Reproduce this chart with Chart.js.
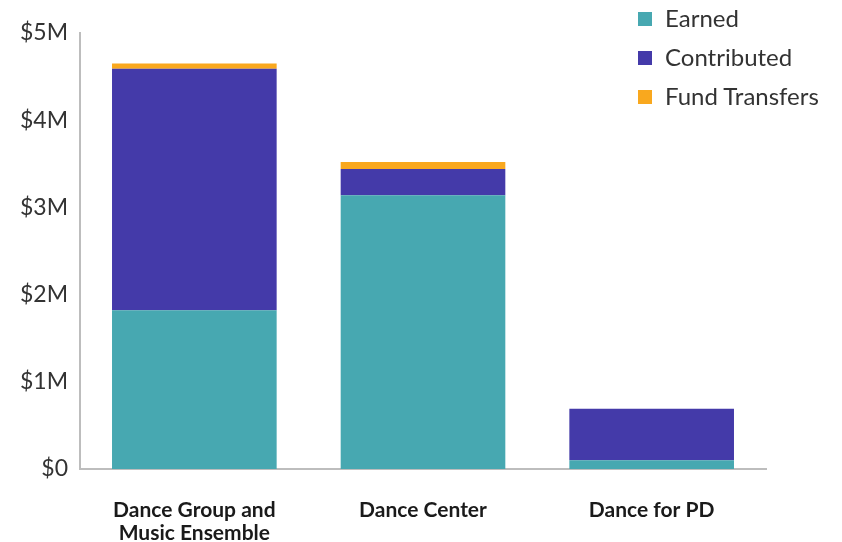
<!DOCTYPE html>
<html>
<head>
<meta charset="utf-8">
<script src="https://cdn.jsdelivr.net/npm/chart.js@4"></script>
<style>
  html, body { margin: 0; padding: 0; background: #fff; }
  #wrap { position: relative; width: 842px; height: 542px; }
  #legend { position: absolute; left: 638px; top: 4px; font-family: Lato, sans-serif; font-size: 24px; color: #333; }
  #legend div { height: 39px; line-height: 28px; white-space: nowrap; }
  #legend span { display: inline-block; width: 14px; height: 14px; margin-right: 13px; vertical-align: 1px; }
</style>
</head>
<body>
<div id="wrap">
  <canvas id="revenue" width="842" height="542"></canvas>
  <div id="legend"></div>
</div>
<script>
const categories = [['Dance Group and', 'Music Ensemble'], 'Dance Center', 'Dance for PD']
const earned = [1820000, 3140000, 100000]
const contributed = [2770000, 300000, 590000]
const fundTransfers = [60000, 80000, 0]
const yTicks = [0, 1000000, 2000000, 3000000, 4000000, 5000000]

const colors = { earned: '#47a8b1', contributed: '#443aa9', fund: '#f9a81e' }

const revenue = document.getElementById("revenue")

// stacked bars
new Chart(revenue, {
  type: 'bar',
  data: {
    labels: categories,
    datasets: [
      { label: 'Earned', data: earned, backgroundColor: colors.earned },
      { label: 'Contributed', data: contributed, backgroundColor: colors.contributed },
      { label: 'Fund Transfers', data: fundTransfers, backgroundColor: colors.fund }
    ]
  },
  options: {
    responsive: false,
    animation: false,
    layout: { padding: { top: 33, right: 76, bottom: 0, left: 0 } },
    plugins: {
      legend: { display: false },
      tooltip: { enabled: false }
    },
    datasets: { bar: { categoryPercentage: 1, barPercentage: 0.72 } },
    scales: {
      x: {
        stacked: true,
        grid: { display: false },
        border: { color: '#bdbdbd', width: 2 },
        ticks: {
          color: '#1a1a1a',
          font: { family: 'Lato', size: 21, weight: 'bold', lineHeight: 1.1 },
          padding: 22,
          maxRotation: 0
        },
        afterFit: (scale) => { scale.height = 73 }
      },
      y: {
        stacked: true,
        min: 0,
        max: 5000000,
        afterBuildTicks: (scale) => { scale.ticks = yTicks.map(v => ({ value: v })) },
        grid: { display: false },
        border: { color: '#bdbdbd', width: 2 },
        ticks: {
          color: '#333',
          font: { family: 'Lato', size: 23 },
          padding: 4,
          callback: (v) => v === 0 ? '$0' : '$' + (v / 1000000) + 'M'
        },
        afterFit: (scale) => { scale.width = 80 }
      }
    }
  }
})

// legend
const legendItems = [['Earned', colors.earned], ['Contributed', colors.contributed], ['Fund Transfers', colors.fund]]
document.getElementById("legend").innerHTML = legendItems
  .map(([name, c]) => `<div><span style="background:${c}"></span>${name}</div>`).join('')
</script>
</body>
</html>
